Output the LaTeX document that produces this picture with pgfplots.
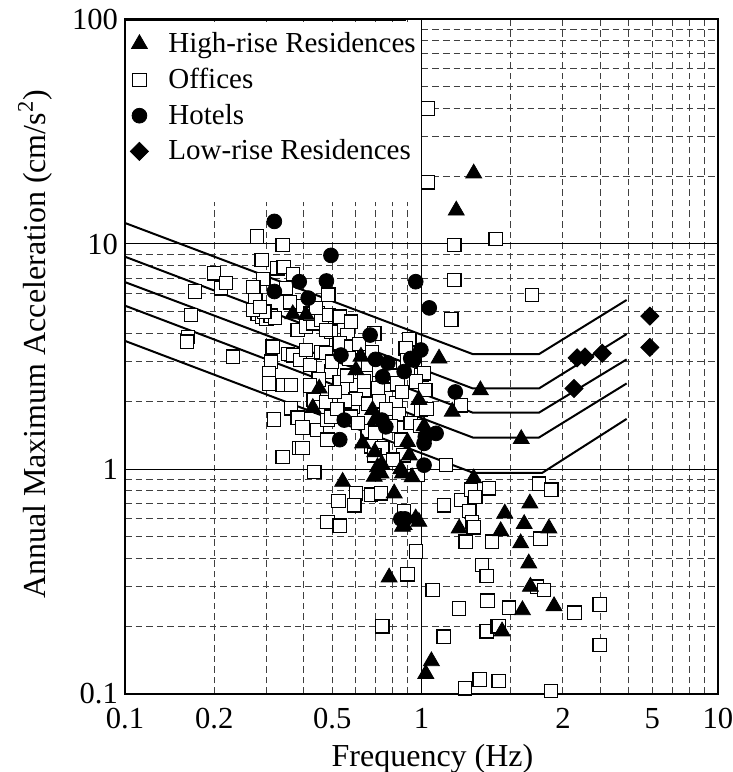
\documentclass[border=0pt]{standalone}
\usepackage{fontspec}
\setmainfont{Liberation Serif}
\usepackage{pgfplots}
\pgfplotsset{compat=1.18}

\begin{document}
\begin{tikzpicture}
\begin{loglogaxis}[
  width=296.5pt, height=337.5pt, scale only axis,
  xmin=0.1, xmax=10, ymin=0.1, ymax=100,
  font=\fontsize{15}{18}\selectfont,
  tick label style={font=\fontsize{15.3}{18}\selectfont},
  label style={font=\fontsize{16}{19}\selectfont},
  xtick={0.1,1,10}, xticklabels={0.1,1,10},
  % the reference puts "2" and "5" under the 3 and 6 grid lines
  extra x ticks={0.2,0.5,3,6}, extra x tick labels={0.2,0.5,2,5},
  extra x tick style={grid=none},
  ytick={0.1,1,10,100}, yticklabels={0.1,1,10,100},
  minor xtick={0.2,0.3,0.4,0.5,0.6,0.7,0.8,0.9,2,3,4,5,6,7,8,9},
  minor ytick={0.2,0.3,0.4,0.5,0.6,0.7,0.8,0.9,2,3,4,5,6,7,8,9,20,30,40,50,60,70,80,90},
  major tick length=0pt, minor tick length=0pt,
  xticklabel style={yshift=-3.5pt},
  grid=both,
  major grid style={black, line width=0.5pt},
  minor grid style={black!75, line width=0.5pt, dash pattern=on 3.3pt off 2pt},
  axis line style={line width=0.6pt},
  xlabel={Frequency (Hz)},
  xlabel style={xshift=5.5pt, yshift=-1pt},
  ylabel={Annual Maximum Acceleration (cm/s\textsuperscript{2})},
  ylabel style={xshift=6pt, yshift=3pt},
  legend cell align=left,
  legend image code/.code={\draw[#1] plot coordinates {(0.15cm,0cm)};},
  legend style={at={(0,1)}, anchor=north west, xshift=1.5pt, yshift=-4.5pt, draw=none, fill=none,
    font=\fontsize{14.5}{18}\selectfont, inner sep=1pt, row sep=4.3pt,
    nodes={inner sep=1pt},
    /tikz/every odd column/.append style={column sep=9pt}},
]
\addlegendimage{only marks, mark=triangle*, mark size=4.6pt, black}
\addlegendentry{High-rise Residences}
\addlegendimage{only marks, mark=square*, mark size=3.33pt, mark options={draw=black, fill=white, line width=0.6pt}}
\addlegendentry{Offices}
\addlegendimage{only marks, mark=*, mark size=3.7pt, black}
\addlegendentry{Hotels}
\addlegendimage{only marks, mark=square*, mark size=3.2pt, mark options={rotate=45}, black}
\addlegendentry{Low-rise Residences}

% legend area hides the grid
\fill[white] (axis cs:0.101,15.4) rectangle (axis cs:0.99,97);
\draw[black, line width=1.4pt] (axis cs:0.1,99.2) -- (axis cs:0.89,99.2);

% criteria curves
\addplot[black, line width=1pt, forget plot] coordinates {(0.1,12.4) (1.49,3.24) (2.49,3.24) (4.92,5.64)};
\addplot[black, line width=1pt, forget plot] coordinates {(0.1,8.78) (1.49,2.28) (2.49,2.28) (4.92,3.98)};
\addplot[black, line width=1pt, forget plot] coordinates {(0.1,6.77) (1.49,1.78) (2.49,1.78) (4.92,3.07)};
\addplot[black, line width=1pt, forget plot] coordinates {(0.1,5.32) (1.49,1.38) (2.49,1.38) (4.92,2.40)};
\addplot[black, line width=1pt, forget plot] coordinates {(0.1,3.71) (1.50,0.96) (2.55,0.96) (4.92,1.67)};

% Offices
\addplot[only marks, mark=square*, mark size=3.33pt, mark options={draw=black, fill=white, line width=0.6pt}, forget plot] coordinates {
(0.163,3.87) (0.162,3.68) (0.167,4.84) (0.172,6.15) (0.200,7.4) (0.211,6.35) (0.219,6.7) (0.231,3.16)
(0.279,10.8) (0.340,9.9) (0.289,8.5) (0.327,7.8) (0.343,7.9) (0.368,7.35) (0.293,7.0) (0.271,6.45) (0.275,5.64) (0.349,6.35) (0.485,5.95)
(0.280,4.9) (0.290,4.75) (0.300,4.65) (0.310,4.8) (0.320,4.7) (0.295,5.0) (0.270,5.1) (0.285,5.25)
(0.382,4.15) (0.408,4.3) (0.430,4.44) (0.448,4.92) (0.495,4.08) (0.360,5.5) (0.400,5.3) (0.420,4.9) (0.460,4.6) (0.440,5.2)
(0.488,4.84) (0.530,4.75) (0.476,4.15) (0.578,4.52) (0.563,3.94) (0.515,3.56) (0.594,3.5) (0.530,3.62) (0.693,4.0) (0.910,3.77)
(0.315,3.5) (0.311,3.0) (0.306,2.66) (0.306,2.4) (0.340,2.36) (0.363,2.36) (0.354,3.25) (0.370,3.2) (0.390,3.05) (0.420,2.9) (0.460,3.3)
(0.363,1.86) (0.382,1.69) (0.397,1.53) (0.445,1.49) (0.318,1.66) (0.433,2.03) (0.387,1.24) (0.340,1.13) (0.435,0.97) (0.482,0.58) (0.482,1.35) (0.482,1.65)
(0.408,3.38) (0.476,3.27) (0.495,2.71) (0.530,2.44) (0.578,3.5) (0.616,3.6) (0.563,2.28) (0.601,2.36) (0.649,2.62) (0.642,2.2) (0.711,2.28) (0.788,2.36) (0.819,1.96) (1.00,2.62) (0.885,3.44) (0.897,3.05) (0.780,2.85) (0.758,2.57)
(0.458,1.89) (0.476,1.99) (0.495,1.71) (0.586,1.89) (0.578,1.71) (0.658,1.47) (0.675,1.26) (0.738,1.24) (0.693,1.15) (0.852,1.35) (0.995,1.83) (1.02,2.66) (1.21,1.04) (0.97,0.94) (0.397,1.24)
(0.62,3.0) (0.66,2.9) (0.68,3.3) (0.72,2.75) (0.80,2.6) (0.83,2.4) (0.86,2.2) (0.64,2.45) (0.56,2.6) (0.60,2.05) (0.66,1.95) (0.72,2.0) (0.76,1.85) (0.84,1.75) (0.92,1.6) (0.79,1.55) (0.70,1.45) (0.61,1.6) (0.55,2.0) (0.51,2.2) (0.45,2.5) (0.50,3.0) (0.57,3.1) (0.87,1.15) (0.80,1.1) (0.52,1.85) (0.42,2.35) (0.96,2.45) (0.99,1.55) (1.04,1.85)
(0.525,0.72) (0.601,0.78) (0.594,0.69) (0.675,0.77) (0.729,0.78) (0.530,0.56) (0.874,0.65) (1.19,0.69) (1.36,0.73) (1.47,0.81) (1.52,0.75) (1.69,0.82) (1.45,0.65) (1.48,0.58) (1.03,2.24) (1.36,1.92)
(1.05,40) (1.05,18.8) (1.29,9.9) (1.78,10.5) (1.29,6.92) (1.26,4.62) (2.36,5.93)
(2.49,0.86) (2.74,0.81) (0.957,0.43) (0.897,0.34) (0.738,0.20) (1.09,0.29) (1.18,0.18) (1.19,0.18) (1.34,0.24) (1.40,0.106) (1.57,0.116) (1.41,0.475) (1.50,0.55) (1.73,0.475) (1.60,0.375) (1.66,0.335) (1.67,0.26) (1.66,0.19) (1.80,0.20) (1.82,0.20) (1.82,0.114) (1.97,0.242) (2.52,0.49) (2.45,0.30) (2.59,0.29) (3.28,0.23) (3.99,0.25) (3.99,0.165) (2.73,0.103)
};

% Hotels
\addplot[only marks, mark=*, mark size=3.7pt, black, forget plot] coordinates {
(0.319,12.6) (0.495,8.9) (0.387,6.8) (0.478,6.85) (0.956,6.8) (1.062,5.2) (0.319,6.15) (0.415,5.75) (0.671,3.94) (0.535,3.21)
(0.70,3.07) (0.77,2.96) (0.74,2.57) (0.874,2.71) (0.92,3.10) (0.995,3.38) (0.94,3.05) (1.30,2.20) (0.549,1.65) (0.758,1.54)
(0.735,1.65) (0.53,1.35) (1.03,1.39) (1.12,1.44) (1.02,1.30) (1.02,1.04) (0.852,0.60) (0.88,0.60)
};

% High-rise Residences
\addplot[only marks, mark=triangle*, mark size=4.6pt, black, forget plot] coordinates {
(0.368,4.88) (0.408,4.85) (0.452,2.28) (0.43,1.87) (0.601,2.75) (0.625,3.16) (1.146,3.10) (1.58,2.24) (1.27,1.80) (0.98,2.03)
(0.684,1.83) (0.70,1.67) (0.633,1.30) (0.696,1.19) (0.735,1.05) (0.711,1.02) (0.73,0.957) (0.693,0.924) (0.897,1.32) (0.91,1.15)
(0.852,1.00) (0.863,0.957) (0.93,0.92) (0.542,0.878) (0.809,0.78) (1.02,1.55) (1.50,0.91) (0.874,0.564) (0.863,0.554) (0.98,0.583)
(0.956,0.604) (1.34,0.545) (0.778,0.33) (1.034,0.123) (1.08,0.14) (1.85,0.53) (2.22,0.57) (2.69,0.545) (2.16,0.468) (2.30,0.381)
(2.32,0.704) (1.91,0.635) (2.33,0.30) (2.19,0.236) (2.80,0.246) (1.87,0.19) (2.17,1.36) (1.50,20.6) (1.31,14.1)
};

% Low-rise Residences
\addplot[only marks, mark=square*, mark size=3.2pt, mark options={rotate=45}, black, forget plot] coordinates {
(3.35,3.12) (3.56,3.15) (4.07,3.27) (3.27,2.28) (5.89,4.78) (5.89,3.47)
};

\coordinate (sw) at (rel axis cs:0,0);
\coordinate (ne) at (rel axis cs:1,1);
\end{loglogaxis}
\pgfresetboundingbox
\path[use as bounding box] ([xshift=-62.5pt,yshift=-39pt]sw) rectangle ([xshift=7.5pt,yshift=9.5pt]ne);
\end{tikzpicture}
\end{document}
